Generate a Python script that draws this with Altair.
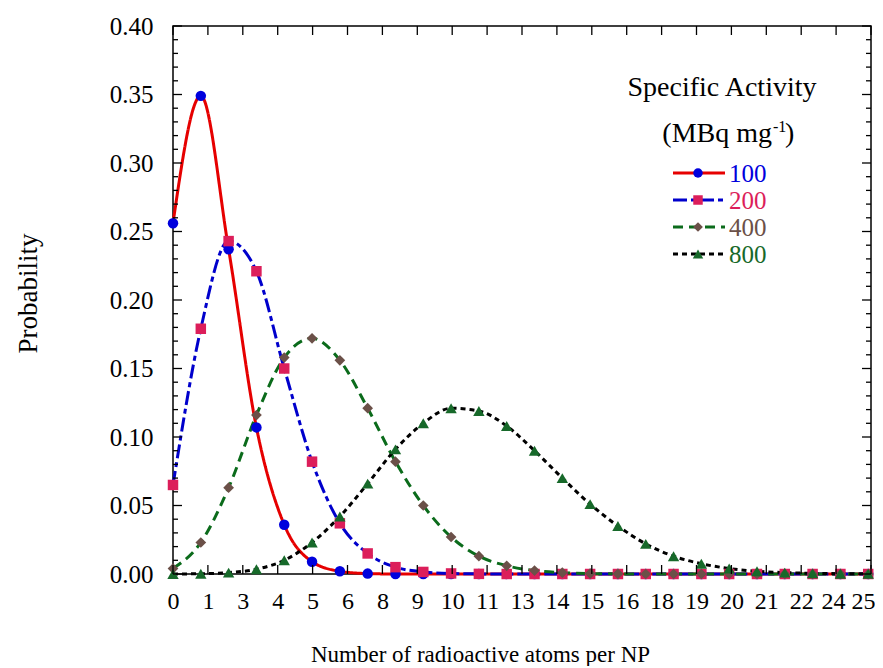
import json
import altair as alt
import pandas as pd

# ---------------- data ----------------
x_values = list(range(26))

p100 = [0.256, 0.349, 0.237, 0.107, 0.036, 0.009, 0.002, 0.0003, 0.0, 0.0,
        0.0, 0.0, 0.0, 0.0, 0.0, 0.0, 0.0, 0.0, 0.0, 0.0,
        0.0, 0.0, 0.0, 0.0, 0.0, 0.0]
p200 = [0.065, 0.179, 0.243, 0.221, 0.150, 0.082, 0.037, 0.015, 0.005, 0.0015,
        0.0004, 0.0001, 0.0, 0.0, 0.0, 0.0, 0.0, 0.0, 0.0, 0.0,
        0.0, 0.0, 0.0, 0.0, 0.0, 0.0]
p400 = [0.004, 0.023, 0.063, 0.116, 0.158, 0.172, 0.156, 0.121, 0.082, 0.050,
        0.027, 0.013, 0.006, 0.0025, 0.001, 0.0003, 0.0001, 0.0, 0.0, 0.0,
        0.0, 0.0, 0.0, 0.0, 0.0, 0.0]
p800 = [0.00002, 0.0002, 0.001, 0.0035, 0.010, 0.023, 0.042, 0.066, 0.091, 0.110,
        0.121, 0.119, 0.108, 0.090, 0.070, 0.051, 0.035, 0.022, 0.013, 0.0075,
        0.004, 0.002, 0.001, 0.0005, 0.0002, 0.0001]

series_names = ["100", "200", "400", "800"]
series_values = [p100, p200, p400, p800]
line_colors = ["#e60000", "#0000cc", "#0b6b1b", "#000000"]
marker_colors = ["#0000dd", "#dc1e5a", "#6b5048", "#17692a"]
marker_shapes = ["circle", "square", "diamond", "triangle-up"]
marker_sizes = [110, 110, 115, 130]
line_dashes = [[1, 0], [14, 4, 5, 4], [10, 6], [5, 4]]

x_tick_labels = ["0", "1", "3", "4", "5", "6", "8", "9", "10", "11", "13",
                 "14", "15", "16", "18", "19", "20", "21", "22", "24", "25"]
y_major = [0.0, 0.05, 0.10, 0.15, 0.20, 0.25, 0.30, 0.35, 0.40]
y_minor = [i / 100 for i in range(41) if i % 5 != 0]

legend_title = "Specific Activity"
legend_unit = "(MBq mg"
legend_sup = "-1"

# ---------------- layout ----------------
W, H = 698, 548
X_MAX = 25.1
x_step = X_MAX / (len(x_tick_labels) - 1)
x_tick_values = [i * x_step for i in range(len(x_tick_labels))]
FONT = "Liberation Serif"

xscale = alt.Scale(domain=[0, X_MAX], nice=False, zero=False)
yscale = alt.Scale(domain=[0, 0.4], nice=False, zero=False)

label_expr = json.dumps(x_tick_labels) + "[round(datum.value / " + repr(x_step) + ")]"

x_axis = alt.Axis(values=x_tick_values, labelExpr=label_expr, ticks=False, tickSize=0,
                  domain=False, grid=False, labelFont=FONT, labelFontSize=24,
                  labelColor="black", labelPadding=15, labelFlush=False, labelOverlap=False,
                  labelOffset={"condition": [{"test": "datum.value > 24.5", "value": -8},
                                             {"test": "datum.value > 23", "value": -3}],
                               "value": 0},
                  title="Number of radioactive atoms per NP", titleFont=FONT,
                  titleFontSize=23, titleFontWeight="normal", titleColor="black",
                  titleX=307, titleY=80, titleBaseline="middle", titleAlign="center")
y_axis = alt.Axis(values=y_major, format=".2f", ticks=False, tickSize=0, domain=False,
                  grid=False, labelFont=FONT, labelFontSize=25, labelColor="black",
                  labelPadding=20, labelFlush=False, labelOverlap=False,
                  title="Probability", titleFont=FONT, titleFontSize=27,
                  titleFontWeight="normal", titleColor="black", titleAngle=-90,
                  titleX=-145, titleY=267, titleBaseline="middle", titleAlign="center")


def X(field):
    return alt.X(field, scale=xscale, axis=x_axis)


def Y(field):
    return alt.Y(field, scale=yscale, axis=y_axis)


layers = []

# series lines
for i, name in enumerate(series_names):
    df = pd.DataFrame({"x": x_values, "p": series_values[i]})
    layers.append(
        alt.Chart(df).mark_line(color=line_colors[i], strokeWidth=3,
                                strokeDash=line_dashes[i], interpolate="monotone",
                                clip=False).encode(x=X("x:Q"), y=Y("p:Q"))
    )

# series markers
for i, name in enumerate(series_names):
    df = pd.DataFrame({"x": x_values, "p": series_values[i]})
    layers.append(
        alt.Chart(df).mark_point(shape=marker_shapes[i], filled=True, opacity=1,
                                 color=marker_colors[i], size=marker_sizes[i],
                                 clip=False).encode(x=X("x:Q"), y=Y("p:Q"))
    )

# frame ticks (inside)
ymaj_df = pd.DataFrame({"p": y_major})
ymin_df = pd.DataFrame({"p": y_minor})
xt_df = pd.DataFrame({"x": x_tick_values})
tick_style = dict(color="black", strokeWidth=1.3)
for df, length in ((ymaj_df, 9), (ymin_df, 5)):
    layers.append(alt.Chart(df).mark_rule(**tick_style).encode(
        y=Y("p:Q"), x=alt.value(0), x2=alt.value(length)))
    layers.append(alt.Chart(df).mark_rule(**tick_style).encode(
        y=Y("p:Q"), x=alt.value(W - length), x2=alt.value(W)))
layers.append(alt.Chart(xt_df).mark_rule(**tick_style).encode(
    x=X("x:Q"), y=alt.value(H), y2=alt.value(H - 9)))
layers.append(alt.Chart(xt_df).mark_rule(**tick_style).encode(
    x=X("x:Q"), y=alt.value(0), y2=alt.value(9)))

# legend
LX0, LX1, LXM, LXT = 500, 552, 525, 556
LY0, LDY = 147, 27
for i, name in enumerate(series_names):
    ly = LY0 + i * LDY
    ldf = pd.DataFrame({"label": [name]})
    layers.append(alt.Chart(ldf).mark_rule(color=line_colors[i], strokeWidth=3,
                                           strokeDash=line_dashes[i]).encode(
        x=alt.value(LX0), x2=alt.value(LX1), y=alt.value(ly)))
    layers.append(alt.Chart(ldf).mark_point(shape=marker_shapes[i], filled=True, opacity=1,
                                            color=marker_colors[i], size=marker_sizes[i] - 20).encode(
        x=alt.value(LXM), y=alt.value(ly)))
    layers.append(alt.Chart(ldf).mark_text(align="left", baseline="middle", font=FONT,
                                           fontSize=25, color=marker_colors[i], dy=1).encode(
        x=alt.value(LXT), y=alt.value(ly), text="label:N"))

tdf = pd.DataFrame({"t": [legend_title], "u": [legend_unit], "s": [legend_sup], "c": [")"]})
layers.append(alt.Chart(tdf).mark_text(align="center", baseline="alphabetic", font=FONT,
                                       fontSize=28, color="black").encode(
    x=alt.value(549), y=alt.value(70), text="t:N"))
layers.append(alt.Chart(tdf).mark_text(align="right", baseline="alphabetic", font=FONT,
                                       fontSize=28, color="black").encode(
    x=alt.value(599), y=alt.value(116), text="u:N"))
layers.append(alt.Chart(tdf).mark_text(align="left", baseline="alphabetic", font=FONT,
                                       fontSize=16, color="black").encode(
    x=alt.value(600), y=alt.value(106), text="s:N"))
layers.append(alt.Chart(tdf).mark_text(align="left", baseline="alphabetic", font=FONT,
                                       fontSize=28, color="black").encode(
    x=alt.value(612), y=alt.value(116), text="c:N"))

chart = alt.layer(*layers).properties(
    width=W, height=H,
    autosize=alt.AutoSizeParams(type="none"),
    padding={"left": 165, "top": 18, "right": 4, "bottom": 92},
    background="white",
).configure_view(stroke="black", strokeWidth=1.5)

chart.save("out.html", embed_options={"renderer": "svg", "actions": False})
